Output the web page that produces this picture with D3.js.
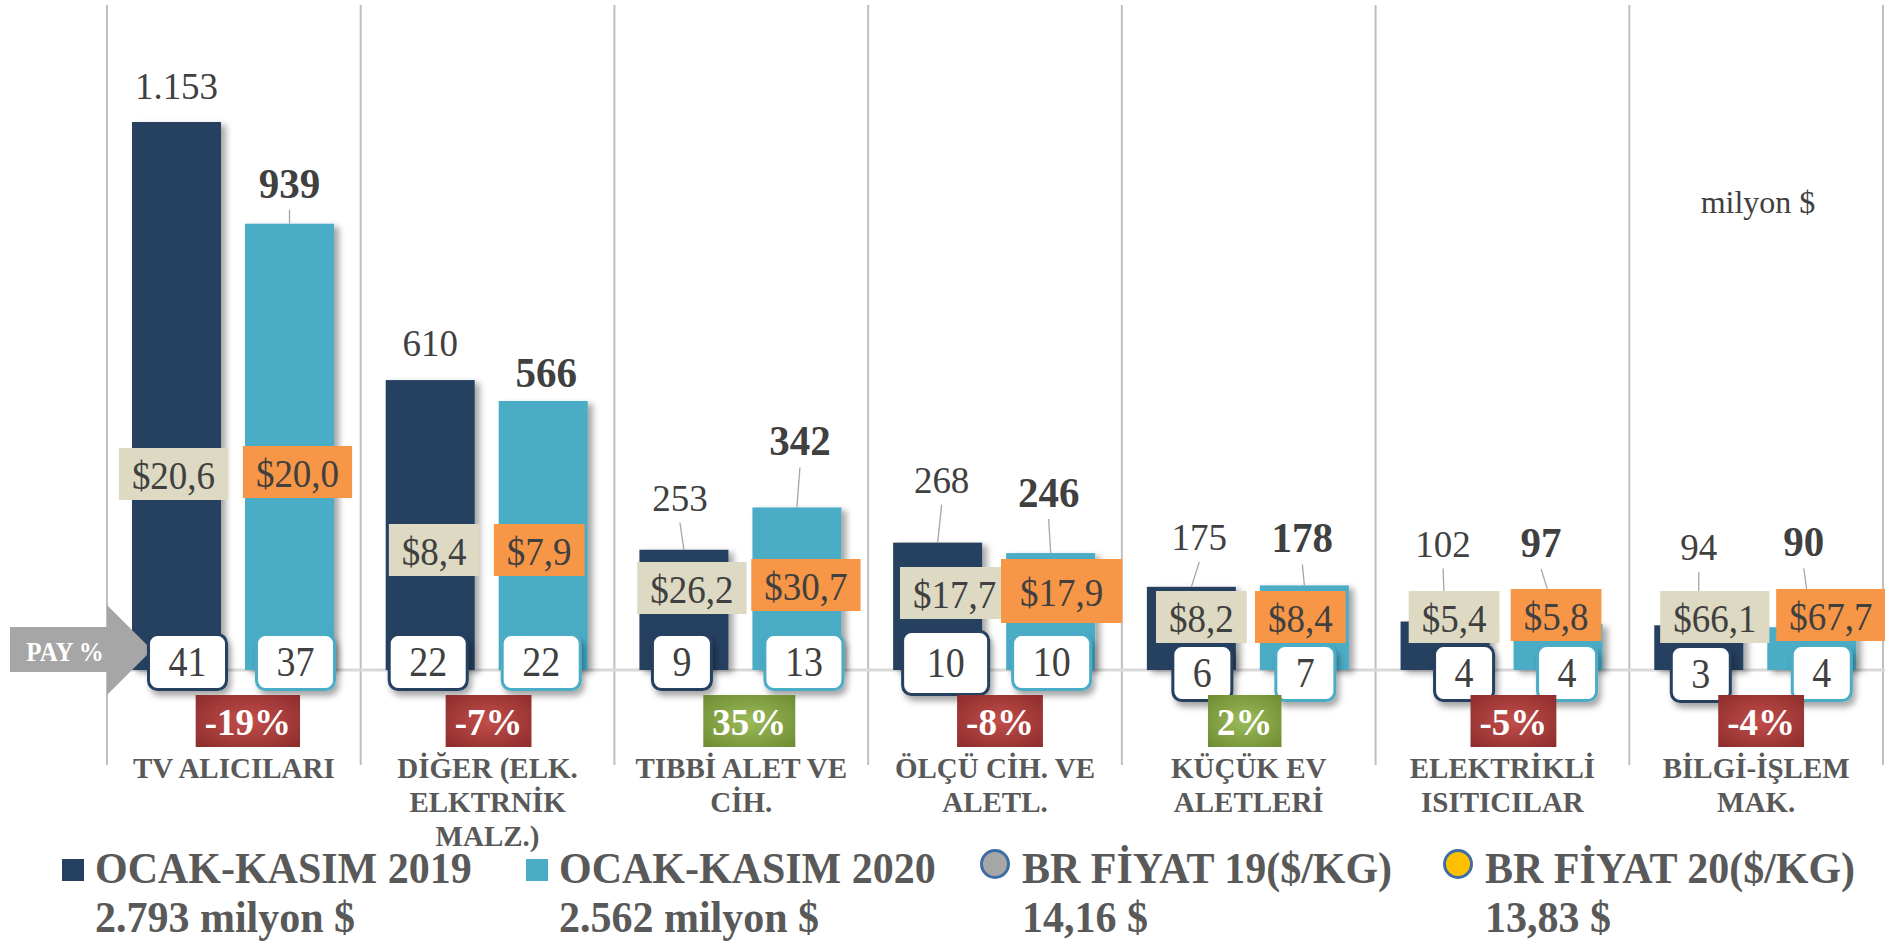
<!DOCTYPE html>
<html>
<head>
<meta charset="utf-8">
<script src="https://cdn.jsdelivr.net/npm/d3@7"></script>
<style>
  body { margin: 0; background: #fff; }
  svg { display: block; }
  text { font-family: "Liberation Serif", "Times New Roman", serif; }
</style>
</head>
<body>
<div id="chart"></div>
<script>
// ---- data (milyon $) ----
const categories = [
  ["TV ALICILARI"],
  ["DİĞER (ELK.", "ELKTRNİK", "MALZ.)"],
  ["TIBBİ ALET VE", "CİH."],
  ["ÖLÇÜ CİH. VE", "ALETL."],
  ["KÜÇÜK EV", "ALETLERİ"],
  ["ELEKTRİKLİ", "ISITICILAR"],
  ["BİLGİ-İŞLEM", "MAK."]
];
const exports2019 = [1153, 610, 253, 268, 175, 102, 94];
const exports2020 = [939, 566, 342, 246, 178, 97, 90];
const price2019 = [20.6, 8.4, 26.2, 17.7, 8.2, 5.4, 66.1];   // $/kg
const price2020 = [20.0, 7.9, 30.7, 17.9, 8.4, 5.8, 67.7];
const share2019 = [41, 22, 9, 10, 6, 4, 3];                  // pay %
const share2020 = [37, 22, 13, 10, 7, 4, 4];
const change = [-19, -7, 35, -8, 2, -5, -4];                 // % degisim
const seriesNames = ["OCAK-KASIM 2019", "OCAK-KASIM 2020", "BR FİYAT 19($/KG)", "BR FİYAT 20($/KG)"];
const totals = [2793, 2562];
const avgPrice = [14.16, 13.83];

// ---- label placement, tuned by eye (px) ----
const lab19 = [[0,-23],[0,-24],[-4,-39],[4,-50],[8,-37],[-2,-65],[0,-65]];     // dx, dy from bar top
const lab20 = [[0,-26],[3,-14],[3,-52],[-2,-46],[-2,-33],[-17,-67],[-8,-71]];
const box19 = [[-3,196],[4,120],[8,82],[17,77],[10,53],[9,53],[16,53]];      // dx, lift above axis
const box20 = [[8,198],[-4,120],[9,85],[11,79],[-4,53],[-2,55],[19,55]];
const pay19 = [[11,-8],[-2,-8],[-2,-8],[8,-7],[11,3],[19,3],[2,4]];           // dx, dy from axis
const pay20 = [[6,-8],[-2,-8],[7,-8],[1,-8],[1,3],[9,3],[10,3]];
const chgDx = [14, 1, 8, 5, -4, 11, 5];

const W = 1885, H = 943;
const colors = { y19: "#253F60", y20: "#4BACC6", beige: "#DDD9C3", orange: "#F79646" };
const tr = d3.formatLocale({ decimal: ",", thousands: ".", grouping: [3], currency: ["$", ""] });
const fmtInt = tr.format(",d");
const fmtPrice = tr.format("$.1f");
const fmtAvg = tr.format(".2f");

// the slide text is drawn a little taller than the font
function stretch(sel, k) {
  sel.attr("transform", function () {
    const yy = +this.getAttribute("y");
    return `translate(0,${yy}) scale(1,${k}) translate(0,${-yy})`;
  });
}

const svg = d3.select("#chart").append("svg")
    .attr("width", W)
    .attr("height", H);

const defs = svg.append("defs");
defs.append("filter").attr("id", "shadow").attr("x", "-20%").attr("y", "-20%").attr("width", "150%").attr("height", "150%")
  .append("feDropShadow").attr("dx", 5).attr("dy", 3).attr("stdDeviation", 3)
  .attr("flood-color", "#000").attr("flood-opacity", 0.35);
defs.append("filter").attr("id", "boxShadow").attr("x", "-20%").attr("y", "-20%").attr("width", "150%").attr("height", "160%")
  .append("feDropShadow").attr("dx", 3).attr("dy", 5).attr("stdDeviation", 3)
  .attr("flood-color", "#000").attr("flood-opacity", 0.35);
[["gradRed", "#C24E4B", "#8C2D2C"], ["gradGreen", "#9BBB59", "#6E8B32"]].forEach(([id, c0, c1]) => {
  const g = defs.append("radialGradient").attr("id", id).attr("cx", "50%").attr("cy", "50%").attr("r", "70%");
  g.append("stop").attr("offset", "0%").attr("stop-color", c0);
  g.append("stop").attr("offset", "100%").attr("stop-color", c1);
});

// scales
const idx = d3.range(categories.length);
const x0 = d3.scaleBand().domain(idx).range([107, 1883]);
const x1 = d3.scaleBand().domain([0, 1]).range([25, 227]).paddingInner(0.2124);
const y = d3.scaleLinear().domain([0, 1153]).range([670, 122]);
const barCx = (i, s) => x0(i) + x1(s) + x1.bandwidth() / 2;

// vertical grid lines between categories
svg.append("g").selectAll("line")
  .data(d3.range(categories.length + 1))
  .join("line")
    .attr("x1", d => 107 + d * x0.step()).attr("x2", d => 107 + d * x0.step())
    .attr("y1", 5).attr("y2", 765)
    .attr("stroke", "#BFBFBF").attr("stroke-width", 2);

// category axis line
svg.append("line")
  .attr("x1", 107).attr("x2", W).attr("y1", y(0)).attr("y2", y(0))
  .attr("stroke", "#D9D9D9").attr("stroke-width", 3);

const series = [
  { vals: exports2019, color: colors.y19, lab: lab19, bold: false, price: price2019, box: box19, boxFill: colors.beige, share: share2019, pay: pay19 },
  { vals: exports2020, color: colors.y20, lab: lab20, bold: true, price: price2020, box: box20, boxFill: colors.orange, share: share2020, pay: pay20 }
];

// bars
series.forEach((s, si) => {
  svg.append("g").attr("filter", "url(#shadow)").selectAll("rect")
    .data(s.vals)
    .join("rect")
      .attr("x", (d, i) => x0(i) + x1(si))
      .attr("y", d => y(d))
      .attr("width", x1.bandwidth())
      .attr("height", d => y(0) - y(d))
      .attr("fill", s.color);
});

// value labels with leader lines
series.forEach((s, si) => {
  const g = svg.append("g");
  s.vals.forEach((v, i) => {
    const bx = barCx(i, si), by = y(v);
    const lx = bx + s.lab[i][0], ly = by + s.lab[i][1];
    if (-s.lab[i][1] > 25) {
      g.append("line")
        .attr("x1", lx).attr("y1", ly + 12)
        .attr("x2", bx).attr("y2", by)
        .attr("stroke", "#A6A6A6").attr("stroke-width", 1.3);
    }
    g.append("text")
      .attr("x", lx).attr("y", ly)
      .attr("text-anchor", "middle")
      .attr("font-size", s.bold ? 41 : 37)
      .attr("font-weight", s.bold ? "bold" : "normal")
      .attr("fill", "#404040")
      .text(fmtInt(v))
      .call(stretch, 1.04);
  });
});

// price ($/kg) boxes
series.forEach((s, si) => {
  s.price.forEach((p, i) => {
    const cx = barCx(i, si) + s.box[i][0];
    const cy = y(0) - s.box[i][1];
    const g = svg.append("g");
    const t = g.append("text")
      .attr("x", cx).attr("y", cy + 15)
      .attr("text-anchor", "middle")
      .attr("font-size", 37)
      .attr("fill", "#404040")
      .text(fmtPrice(p));
    const w = t.node().getComputedTextLength() + 26;
    t.call(stretch, 1.07);
    const big = (si === 1 && i === 3) ? 6 : 0;
    g.insert("rect", "text")
      .attr("x", cx - w / 2 - big).attr("y", cy - 26 - big)
      .attr("width", w + 2 * big).attr("height", 52 + 2 * big)
      .attr("fill", s.boxFill);
  });
});

// "PAY %" arrow
const arrow = svg.append("g");
arrow.append("path")
  .attr("d", d3.line()([[10, 627], [107, 627], [107, 605], [152, 650], [107, 695], [107, 672], [10, 672]]) + "Z")
  .attr("fill", "#A6A6A6");
arrow.append("text")
  .attr("x", 65).attr("y", 661)
  .attr("text-anchor", "middle")
  .attr("font-size", 25).attr("font-weight", "bold")
  .attr("fill", "#fff")
  .text("PAY %")
  .call(stretch, 1.1);

// share boxes
series.forEach((s, si) => {
  s.share.forEach((v, i) => {
    const cx = barCx(i, si) + s.pay[i][0];
    const cy = y(0) + s.pay[i][1];
    const g = svg.append("g");
    const t = g.append("text")
      .attr("x", cx).attr("y", cy + 14)
      .attr("text-anchor", "middle")
      .attr("font-size", 38)
      .attr("fill", "#404040")
      .text(v);
    const big = (si === 0 && i === 3) ? 4 : 0;
    const w = t.node().getComputedTextLength() + 40 + 2 * big;
    const h = 55 + 2 * big;
    t.call(stretch, 1.12);
    g.insert("rect", "text")
      .attr("x", cx - w / 2).attr("y", cy - h / 2)
      .attr("width", w).attr("height", h)
      .attr("rx", 9).attr("ry", 9)
      .attr("fill", "#fff")
      .attr("stroke", s.color).attr("stroke-width", 3)
      .attr("filter", "url(#boxShadow)");
  });
});

// change boxes
change.forEach((c, i) => {
  const cx = x0(i) + x0.bandwidth() / 2 + chgDx[i];
  const cy = 721;
  const g = svg.append("g");
  const t = g.append("text")
    .attr("x", cx).attr("y", cy + 14)
    .attr("text-anchor", "middle")
    .attr("font-size", 37).attr("font-weight", "bold")
    .attr("fill", "#fff")
    .text(c + "%");
  const w = t.node().getComputedTextLength() + 18;
  t.call(stretch, 1.05);
  g.insert("rect", "text")
    .attr("x", cx - w / 2).attr("y", cy - 26)
    .attr("width", w).attr("height", 52)
    .attr("fill", c < 0 ? "url(#gradRed)" : "url(#gradGreen)");
});

// category labels
svg.append("g").selectAll("text")
  .data(categories)
  .join("text")
    .attr("x", (d, i) => x0(i) + x0.bandwidth() / 2)
    .attr("y", 778)
    .attr("text-anchor", "middle")
    .attr("font-size", 29).attr("font-weight", "bold")
    .attr("fill", "#595959")
  .selectAll("tspan")
  .data(d => d)
  .join("tspan")
    .attr("x", function () { return this.parentNode.getAttribute("x"); })
    .attr("dy", (d, j) => j === 0 ? 0 : 34)
    .text(d => d);

// unit note
svg.append("text")
  .attr("x", 1758).attr("y", 213)
  .attr("text-anchor", "middle")
  .attr("font-size", 32)
  .attr("fill", "#404040")
  .text("milyon $");

// legend
const legendX = [62, 526, 980, 1443];
const legendSub = [fmtInt(totals[0]) + " milyon $", fmtInt(totals[1]) + " milyon $",
                   fmtAvg(avgPrice[0]) + " $", fmtAvg(avgPrice[1]) + " $"];
const legendMark = [
  { shape: "rect", fill: colors.y19 },
  { shape: "rect", fill: colors.y20 },
  { shape: "circle", fill: "#A6A6A6" },
  { shape: "circle", fill: "#FFC000" }
];
const legend = svg.append("g");
seriesNames.forEach((name, i) => {
  const g = legend.append("g").attr("transform", `translate(${legendX[i]},0)`);
  if (legendMark[i].shape === "rect") {
    g.append("rect").attr("x", 0).attr("y", 859).attr("width", 22).attr("height", 22).attr("fill", legendMark[i].fill);
  } else {
    g.append("circle").attr("cx", 15).attr("cy", 864).attr("r", 13.5)
      .attr("fill", legendMark[i].fill).attr("stroke", "#3E6DA5").attr("stroke-width", 3);
  }
  const tx = legendMark[i].shape === "rect" ? 33 : 42;
  g.append("text").attr("x", tx).attr("y", 883)
    .attr("font-size", 42).attr("font-weight", "bold").attr("fill", "#595959")
    .text(name)
    .call(stretch, 1.04);
  g.append("text").attr("x", tx).attr("y", 932)
    .attr("font-size", 42).attr("font-weight", "bold").attr("fill", "#595959")
    .text(legendSub[i])
    .call(stretch, 1.04);
});
</script>
</body>
</html>
